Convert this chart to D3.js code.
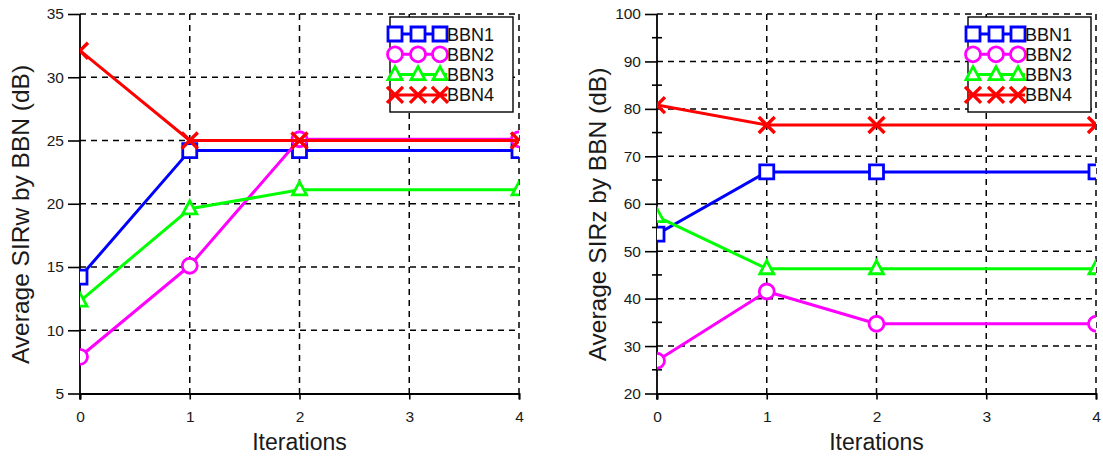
<!DOCTYPE html>
<html>
<head>
<meta charset="utf-8">
<script src="https://cdn.jsdelivr.net/npm/d3@7/dist/d3.min.js"></script>
<style>
  html, body { margin: 0; padding: 0; background: #fff; }
  svg { display: block; font-family: "Liberation Sans", Arial, sans-serif; }
</style>
</head>
<body>
<svg id="chart" width="1103" height="460"></svg>
<script>
// Iterations at which each BBN value was recorded
const iterations = [0, 1, 2, 4];
const xTicks = [0, 1, 2, 3, 4];
const seriesNames = ["BBN1", "BBN2", "BBN3", "BBN4"];
const seriesColors = ["#0000ff", "#ff00ff", "#00ff00", "#ff0000"];
const seriesMarkers = ["square", "circle", "triangle", "cross"];

// Average SIRw by BBN (dB)
const sirwBBN1 = [14.2, 24.2, 24.2, 24.2];
const sirwBBN2 = [7.9, 15.1, 25.1, 25.1];
const sirwBBN3 = [12.3, 19.6, 21.1, 21.1];
const sirwBBN4 = [32.1, 25.0, 25.0, 25.0];
const sirwTicks = [5, 10, 15, 20, 25, 30, 35];

// Average SIRz by BBN (dB)
const sirzBBN1 = [53.6, 66.7, 66.7, 66.7];
const sirzBBN2 = [26.9, 41.5, 34.7, 34.7];
const sirzBBN3 = [57.3, 46.3, 46.3, 46.3];
const sirzBBN4 = [80.8, 76.6, 76.6, 76.6];
const sirzTicks = [20, 30, 40, 50, 60, 70, 80, 90, 100];
const sirzMinorTicks = [25, 35, 45, 55, 65, 75, 85, 95];

const svg = d3.select("#chart");

function markerPath(type) {
  const p = d3.path();
  if (type === "square") {
    p.rect(-7, -7, 14, 14);
  } else if (type === "circle") {
    p.arc(0, 0, 7.5, 0, 2 * Math.PI);
    p.closePath();
  } else if (type === "triangle") {
    p.moveTo(0, -8);
    p.lineTo(7, 5);
    p.lineTo(-7, 5);
    p.closePath();
  } else {
    p.moveTo(-8, -8); p.lineTo(8, 8);
    p.moveTo(-8, 8); p.lineTo(8, -8);
  }
  return p.toString();
}

function drawPanel(opt) {
  const { left, right, top, bottom, yDomain, yTicks, yMinor, series, yTitle, legendX, id } = opt;
  const g = svg.append("g");
  const x = d3.scaleLinear().domain([0, 4]).range([left, right]);
  const y = d3.scaleLinear().domain(yDomain).range([bottom, top]);

  g.append("clipPath").attr("id", id)
    .append("rect").attr("x", left).attr("y", top)
    .attr("width", right - left).attr("height", bottom - top);

  // dashed grid
  const grid = g.append("g").attr("stroke", "#000").attr("stroke-width", 1.5)
    .attr("stroke-dasharray", "6,5");
  grid.selectAll("line.h").data(yTicks.slice(1)).join("line")
    .attr("x1", left).attr("x2", right)
    .attr("y1", d => y(d)).attr("y2", d => y(d));
  grid.selectAll("line.v").data(xTicks.slice(1)).join("line")
    .attr("x1", d => x(d)).attr("x2", d => x(d))
    .attr("y1", top).attr("y2", bottom);

  // axes
  const yAxis = d3.axisLeft(y).tickValues(yTicks).tickSize(12).tickPadding(4);
  const xAxis = d3.axisBottom(x).tickValues(xTicks).tickFormat(d3.format("d"))
    .tickSize(6).tickPadding(11);
  const ya = g.append("g").attr("transform", `translate(${left},0)`).call(yAxis);
  const xa = g.append("g").attr("transform", `translate(0,${bottom})`).call(xAxis);
  [ya, xa].forEach(a => {
    a.select(".domain").attr("stroke", "#000").attr("stroke-width", 1.8);
    a.selectAll(".tick line").attr("stroke", "#000").attr("stroke-width", 1.6);
    a.selectAll(".tick text").attr("fill", "#1a1a1a").style("font-size", "15.5px")
      .style("font-family", "'Liberation Sans', Arial, sans-serif");
  });
  ya.select(".domain").attr("d", `M0,${bottom + 6}V${top}`);
  if (yMinor) {
    g.append("g").selectAll("line").data(yMinor).join("line")
      .attr("x1", left - 5).attr("x2", left + 5)
      .attr("y1", d => y(d)).attr("y2", d => y(d))
      .attr("stroke", "#000").attr("stroke-width", 1.6);
  }

  // series
  const plot = g.append("g").attr("clip-path", `url(#${id})`);
  const line = d3.line().x((d, i) => x(iterations[i])).y(d => y(d));
  series.forEach((vals, si) => {
    const col = seriesColors[si];
    plot.append("path").datum(vals).attr("d", line)
      .attr("fill", "none").attr("stroke", col).attr("stroke-width", 3)
      .attr("stroke-linejoin", "round");
    plot.selectAll(null).data(vals).join("path")
      .attr("transform", (d, i) => `translate(${x(iterations[i])},${y(d)})`)
      .attr("d", markerPath(seriesMarkers[si]))
      .attr("fill", seriesMarkers[si] === "cross" ? "none" : "#fff")
      .attr("stroke", col).attr("stroke-width", seriesMarkers[si] === "cross" ? 3.4 : 2.8);
  });

  // axis titles
  g.append("text").attr("x", (left + right) / 2).attr("y", 450)
    .attr("text-anchor", "middle").style("font-size", "23px").attr("fill", "#1a1a1a")
    .text("Iterations");
  g.append("text")
    .attr("transform", `translate(${left - 51},214.5) rotate(-90)`)
    .attr("text-anchor", "middle").style("font-size", "24.5px").attr("fill", "#1a1a1a")
    .text(yTitle);

  // legend
  const lg = g.append("g");
  lg.append("rect").attr("x", legendX).attr("y", 17).attr("width", 123).attr("height", 95)
    .attr("fill", "#fff").attr("stroke", "#000").attr("stroke-width", 1.4);
  seriesNames.forEach((name, si) => {
    const ly = 34 + si * 20.3;
    const col = seriesColors[si];
    lg.append("line").attr("x1", legendX - 1).attr("x2", legendX + 57)
      .attr("y1", ly).attr("y2", ly).attr("stroke", col).attr("stroke-width", 3);
    [5, 28, 50].forEach(dx => {
      lg.append("path").attr("transform", `translate(${legendX + dx},${ly})`)
        .attr("d", markerPath(seriesMarkers[si]))
        .attr("fill", seriesMarkers[si] === "cross" ? "none" : "#fff")
        .attr("stroke", col).attr("stroke-width", seriesMarkers[si] === "cross" ? 3.4 : 2.8);
    });
    lg.append("text").attr("x", legendX + 57).attr("y", ly + 6.5)
      .style("font-size", "18px").attr("fill", "#111").text(name);
  });
}

drawPanel({
  id: "clipW", left: 80, right: 519, top: 14, bottom: 393.5,
  yDomain: [5, 35], yTicks: sirwTicks, yMinor: null,
  series: [sirwBBN1, sirwBBN2, sirwBBN3, sirwBBN4],
  yTitle: "Average SIRw by BBN (dB)", legendX: 390
});
drawPanel({
  id: "clipZ", left: 657, right: 1096, top: 14, bottom: 393.5,
  yDomain: [20, 100], yTicks: sirzTicks, yMinor: sirzMinorTicks,
  series: [sirzBBN1, sirzBBN2, sirzBBN3, sirzBBN4],
  yTitle: "Average SIRz by BBN (dB)", legendX: 968
});
</script>
</body>
</html>
